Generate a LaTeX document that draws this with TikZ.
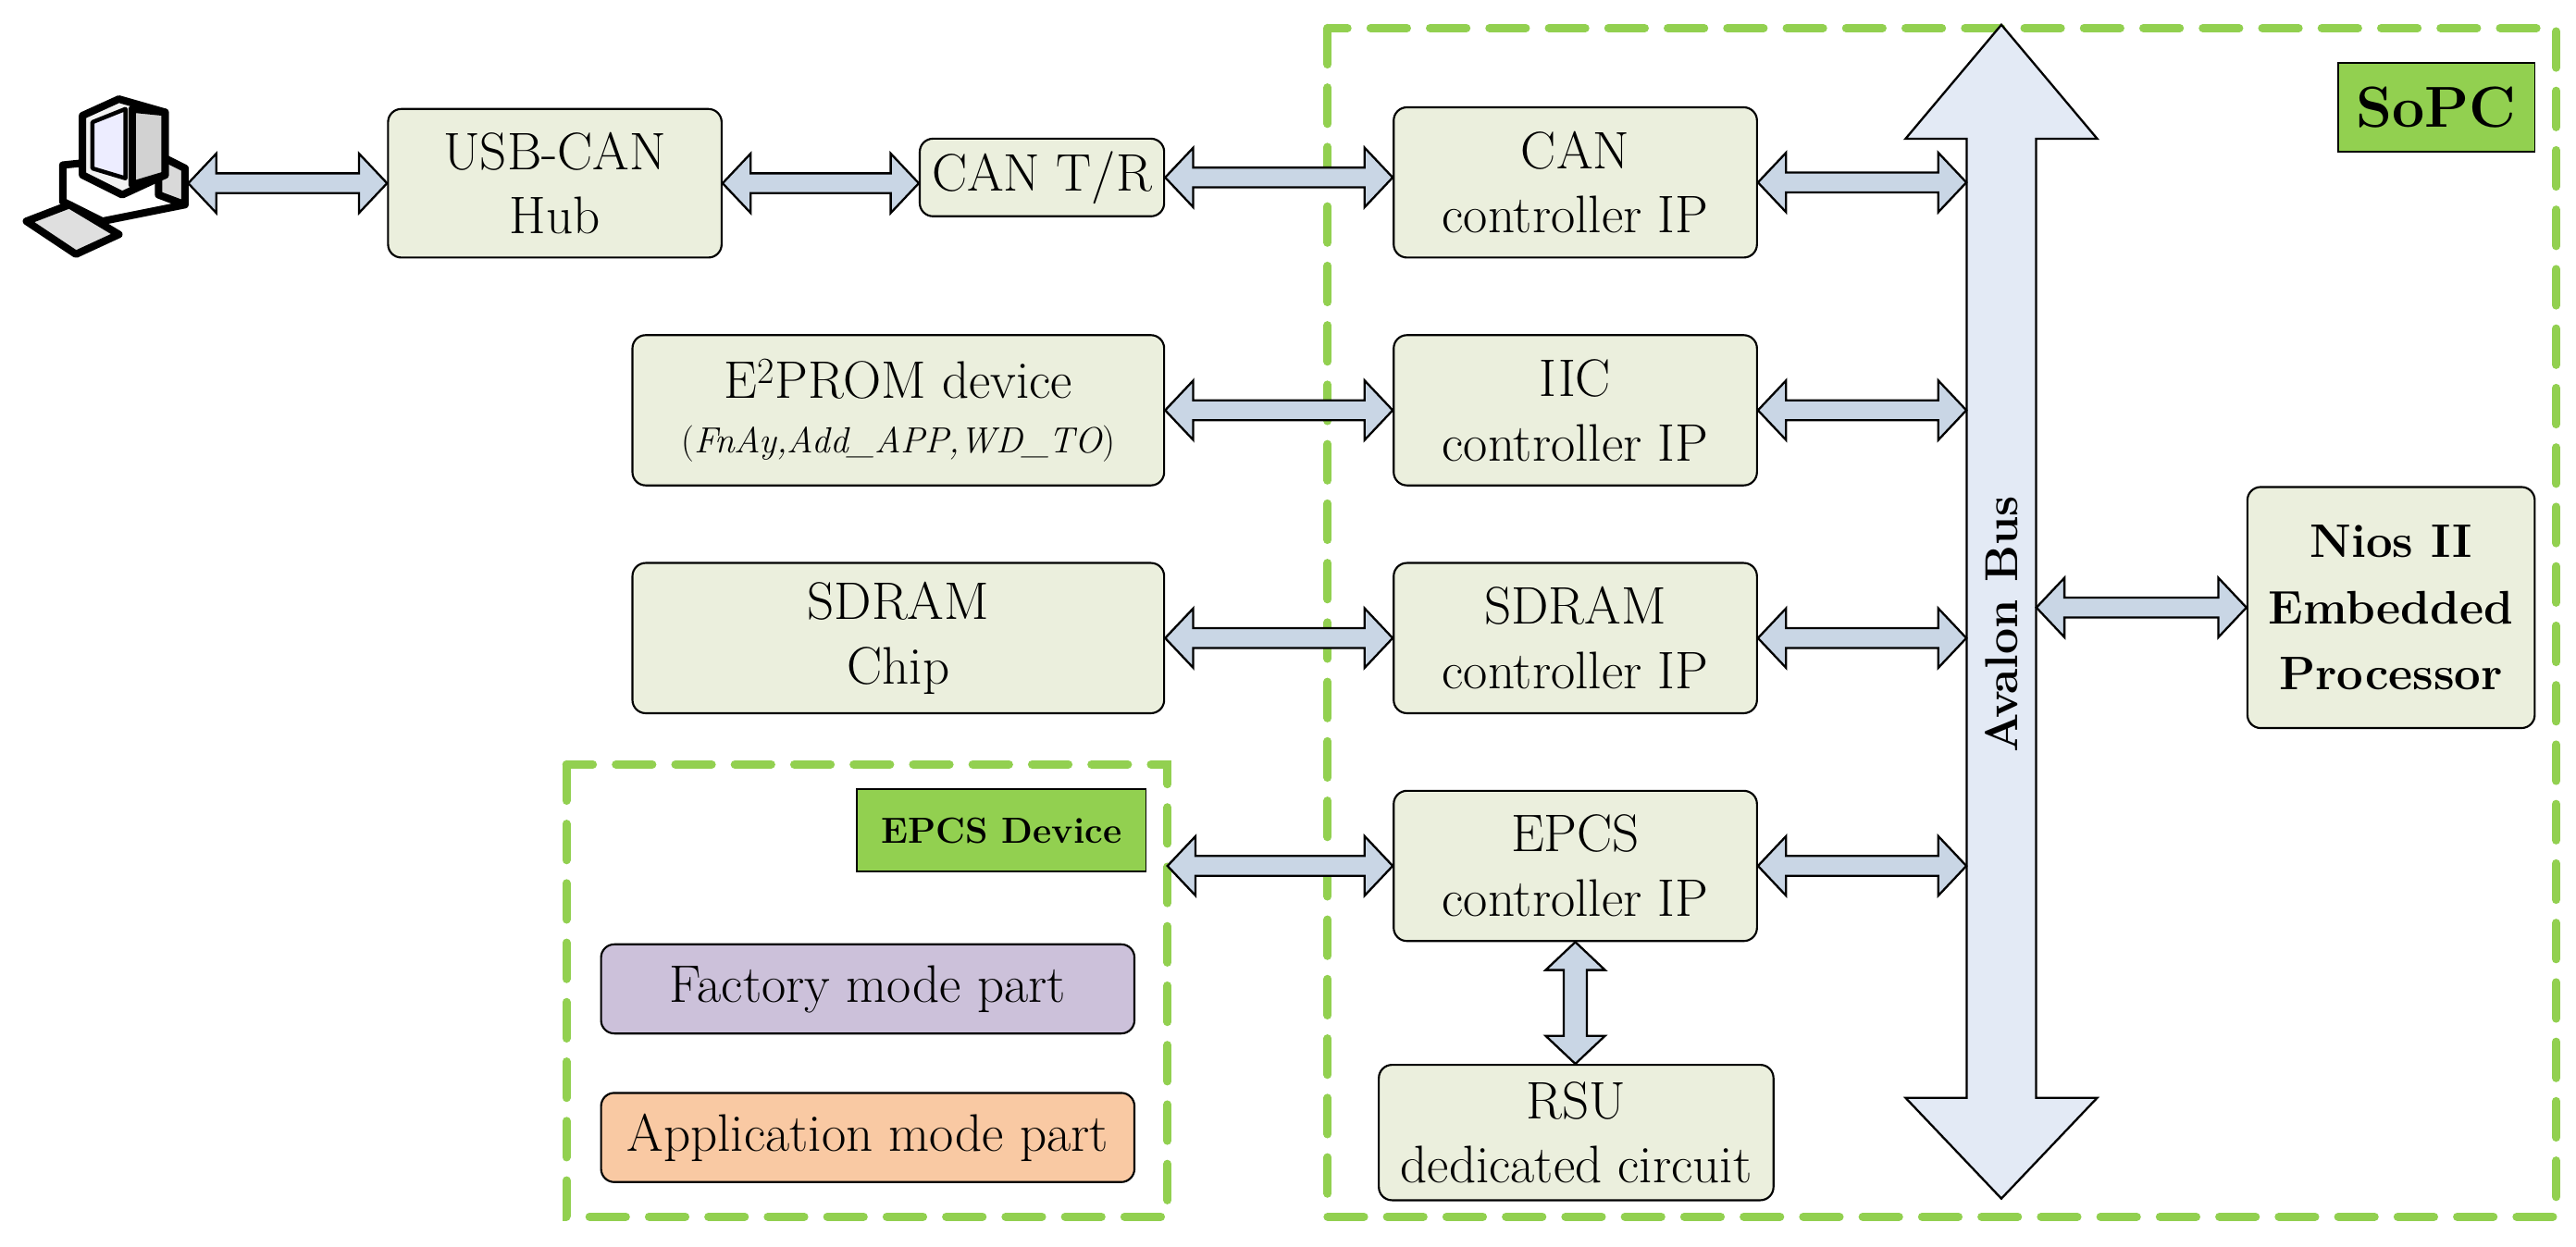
\documentclass[tikz,border=0pt]{standalone}
\usetikzlibrary{calc}
\definecolor{boxfill}{HTML}{EBEFDD}
\definecolor{arrfill}{HTML}{C9D6E5}
\definecolor{busfill}{HTML}{E3EAF5}
\definecolor{grn}{HTML}{92D050}
\definecolor{lav}{HTML}{CCC1DA}
\definecolor{peach}{HTML}{F9C9A3}
\tikzset{
 blk/.style={draw=black, line width=1.2pt, rounded corners=8pt, fill=boxfill, align=center, font=\rmfamily\fontsize{32}{39}\selectfont, inner sep=0pt},
 dbl/.style={draw=black, line width=1.3pt, fill=arrfill, line join=miter},
 grdash/.style={draw=grn, line width=5pt, dash pattern=on 22pt off 14pt, line cap=round},
 lbl/.style={draw=black, line width=1pt, fill=grn, font=\bfseries, inner sep=0pt},
}
\newcommand\hdarr[2]{\path[dbl] let \p1=(#1), \p2=(#2) in
 (\x1,\y1) -- (\x1+17pt,\y1+18pt) -- (\x1+17pt,\y1+6pt) -- (\x2-17pt,\y1+6pt) -- (\x2-17pt,\y1+18pt) -- (\x2,\y1) -- (\x2-17pt,\y1-18pt) -- (\x2-17pt,\y1-6pt) -- (\x1+17pt,\y1-6pt) -- (\x1+17pt,\y1-18pt) -- cycle;}
\newcommand\vdarr[2]{\path[dbl] let \p1=(#1), \p2=(#2) in
 (\x1,\y1) -- (\x1+18pt,\y1-17pt) -- (\x1+7pt,\y1-17pt) -- (\x1+7pt,\y2+17pt) -- (\x1+18pt,\y2+17pt) -- (\x1,\y2) -- (\x1-18pt,\y2+17pt) -- (\x1-7pt,\y2+17pt) -- (\x1-7pt,\y1-17pt) -- (\x1-18pt,\y1-17pt) -- cycle;}
\begin{document}
\begin{tikzpicture}[x=1pt,y=-1pt]
\useasboundingbox (0,0) rectangle (1560,755);
% dashed regions
\draw[grdash] (804,17) rectangle (1548,737);
\draw[grdash] (343,463) rectangle (707,737);
\node[lbl, minimum width=119pt, minimum height=54pt, font=\bfseries\fontsize{35}{38}\selectfont] (sopc) at (1475.5,65) {SoPC};
\node[lbl, minimum width=175pt, minimum height=50pt, font=\bfseries\fontsize{22}{26}\selectfont] (epcsdev) at (606.5,503) {EPCS Device};
\node[blk, fill=lav, minimum width=323pt, minimum height=54pt] (fact) at (525.5,599) {Factory mode part};
\node[blk, fill=peach, minimum width=323pt, minimum height=54pt] (app) at (525.5,689) {Application mode part};
% computer icon
\begin{scope}[line width=4.5pt, line join=round]
 \draw[fill=white] (38,100) -- (96,94) -- (112,102) -- (112,124) -- (62,134) -- (38,122) -- cycle;
 \draw[fill=gray!30] (96,94) -- (112,102) -- (112,124) -- (96,118) -- cycle;
 \draw[fill=gray!10] (50,70) -- (72,60) -- (100,68) -- (100,106) -- (74,118) -- (50,106) -- cycle;
 \draw[fill=gray!35] (80,66) -- (100,68) -- (100,106) -- (80,112) -- cycle;
 \draw[fill=blue!7, line width=2.5pt] (56,74) -- (76,66) -- (76,108) -- (56,102) -- cycle;
 \draw[fill=gray!25] (16,134) -- (42,124) -- (72,142) -- (46,154) -- cycle;
\end{scope}
\coordinate (pc) at (114,111);
\coordinate (epcsR) at (707,524.5);
% blocks
\node[blk, minimum width=202pt, minimum height=90pt] (usb) at (336,111) {USB-CAN\\Hub};
\node[blk, minimum width=148pt, minimum height=47pt] (cantr) at (631,107.5) {CAN T/R};
\node[blk, minimum width=220pt, minimum height=91pt] (canip) at (954,110.5) {CAN\\controller IP};
\node[blk, minimum width=220pt, minimum height=91pt] (iic) at (954,248.5) {IIC\\controller IP};
\node[blk, minimum width=220pt, minimum height=91pt] (sdip) at (954,386.5) {SDRAM\\controller IP};
\node[blk, minimum width=220pt, minimum height=91pt] (epip) at (954,524.5) {EPCS\\controller IP};
\node[blk, minimum width=239pt, minimum height=82pt] (rsu) at (954.5,686) {RSU\\dedicated circuit};
\node[blk, minimum width=322pt, minimum height=91pt] (e2) at (544,248.5) {E\textsuperscript{2}PROM device\\[-6pt]{\fontsize{22}{26}\selectfont(\textit{FnAy,Add\_APP,WD\_TO})}};
\node[blk, minimum width=322pt, minimum height=91pt] (sdchip) at (544,386.5) {SDRAM\\Chip};
\node[blk, minimum width=174pt, minimum height=146pt, font=\bfseries\fontsize{28.5}{40}\selectfont] (nios) at (1448,368) {Nios II\\Embedded\\Processor};
% Avalon bus
\path[draw=black, line width=1.3pt, fill=busfill] (1212,15) -- (1270,84) -- (1233,84) -- (1233,665) -- (1270,665) -- (1212,726) -- (1154,665) -- (1191,665) -- (1191,84) -- (1154,84) -- cycle;
\node[minimum width=42pt, minimum height=581pt, inner sep=0pt] (bus) at (1212,374.5) {};
\node[rotate=90, font=\bfseries\fontsize{28}{30}\selectfont] (buslbl) at (1212,378) {Avalon Bus};
% connectors
\hdarr{pc}{usb.west}
\hdarr{usb.east}{usb.east -| cantr.west}
\hdarr{cantr.east}{cantr.east -| canip.west}
\hdarr{canip.east}{canip.east -| bus.west}
\hdarr{e2.east}{iic.west}
\hdarr{iic.east}{iic.east -| bus.west}
\hdarr{sdchip.east}{sdip.west}
\hdarr{sdip.east}{sdip.east -| bus.west}
\hdarr{epcsR}{epip.west}
\hdarr{epip.east}{epip.east -| bus.west}
\hdarr{bus.east |- nios.west}{nios.west}
\vdarr{epip.south}{rsu.north}
\end{tikzpicture}
\end{document}
